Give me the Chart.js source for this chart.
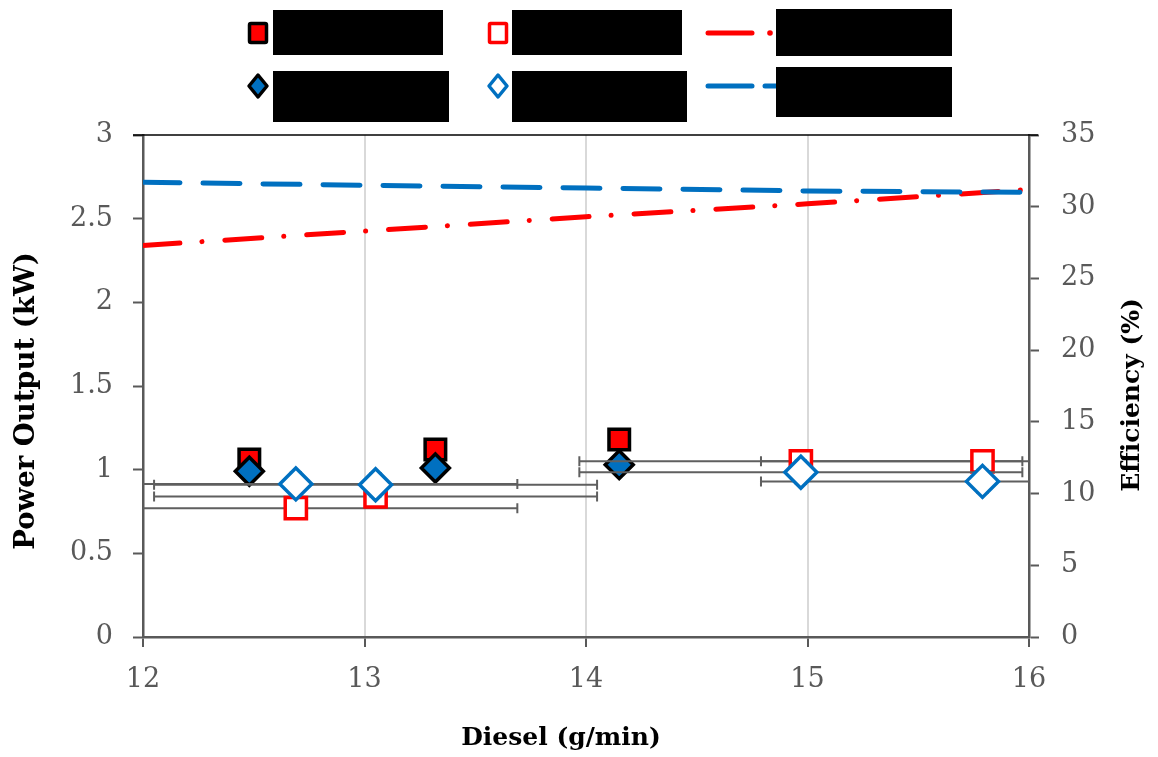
<!DOCTYPE html>
<html>
<head>
<meta charset="utf-8">
<title>Power output and efficiency vs diesel flow</title>
<script src="https://cdn.jsdelivr.net/npm/chart.js@4.4.1/dist/chart.umd.min.js"></script>
<style>
  body { margin: 0; background: #fff; }
  #wrap { position: relative; width: 1158px; height: 757px; }
  #chart { position: absolute; left: 0; top: 0; }
  #keys { position: absolute; left: 0; top: 0; }
  .lbl { position: absolute; background: #000; color: #000; font: 22px 'DejaVu Serif'; line-height: 45px; overflow: hidden; white-space: nowrap; }
</style>
</head>
<body>
<div id="wrap">
  <canvas id="chart" width="1158" height="757"></canvas>
  <svg id="keys" width="1158" height="130">
    <rect x="249.5" y="23.5" width="17" height="19" fill="#ff0000" stroke="#000" stroke-width="3.5" rx="1.5"/>
    <rect x="489.5" y="23.5" width="17" height="19" fill="#fff" stroke="#ff0000" stroke-width="3.5" rx="1"/>
    <line x1="708" y1="33" x2="752" y2="33" stroke="#ff0000" stroke-width="5" stroke-linecap="round"/>
    <circle cx="770" cy="33" r="2.8" fill="#ff0000"/>
    <path d="M258 75 L267 86 L258 97 L249 86 Z" fill="#0070c0" stroke="#000" stroke-width="3.5" stroke-linejoin="round"/>
    <path d="M498 75 L507 86 L498 97 L489 86 Z" fill="#fff" stroke="#0070c0" stroke-width="3.5" stroke-linejoin="round"/>
    <line x1="708" y1="86" x2="752" y2="86" stroke="#0070c0" stroke-width="5" stroke-linecap="round"/>
    <line x1="765" y1="86" x2="778" y2="86" stroke="#0070c0" stroke-width="5" stroke-linecap="round"/>
  </svg>
  <div class="lbl" style="left:273px;top:10px;width:170px;height:45px">Power (measured)</div>
  <div class="lbl" style="left:512px;top:10px;width:170px;height:45px">Power (model)</div>
  <div class="lbl" style="left:776px;top:9px;width:176px;height:47px">Efficiency (measured)</div>
  <div class="lbl" style="left:273px;top:71px;width:176px;height:51px">Power (measured)</div>
  <div class="lbl" style="left:512px;top:71px;width:175px;height:51px">Power (model)</div>
  <div class="lbl" style="left:776px;top:67px;width:176px;height:50px">Efficiency (model)</div>
</div>
<script>
// Values
const dieselMeasured = [12.48, 13.32, 14.15];
const powerMeasuredA = [1.06, 1.12, 1.18];
const powerMeasuredB = [0.99, 1.01, 1.03];

const dieselModel = [12.69, 13.05, 14.97, 15.79];
const powerModelA = [0.77, 0.84, 1.05, 1.05];
const powerModelB = [0.915, 0.91, 0.985, 0.93];
const dieselErr = [1, 1, 1, 1];
const powerErrB = [0.07, 0.07, 0.07, 0.07];

const dieselLine = [12, 13, 14, 15, 16];
const efficiencyA = [27.3, 28.3, 29.3, 30.2, 31.2];
const efficiencyB = [31.7, 31.5, 31.3, 31.1, 31.0];

const xTitle = 'Diesel (g/min)';
const yTitle = 'Power Output (kW)';
const y2Title = 'Efficiency (%)';

const RED = '#ff0000';
const BLUE = '#0070c0';
const AXIS = '#595959';

function pts(xs, ys) {
  return xs.map((x, i) => ({ x, y: ys[i] }));
}

// Error bars drawn right before their own dataset, like the original
const errorBars = {
  id: 'errorBars',
  beforeDatasetDraw(chart, args) {
    const ds = chart.data.datasets[args.index];
    if (!ds.xErr && !ds.yErr) return;
    const { ctx, chartArea: a, scales } = chart;
    const xs = scales.x, ys = scales[ds.yAxisID || 'y'];
    ctx.save();
    ctx.beginPath();
    ctx.rect(a.left, a.top, a.right - a.left, a.bottom - a.top);
    ctx.clip();
    ctx.strokeStyle = '#5f5f5f';
    ctx.lineWidth = 2;
    ds.data.forEach((p, i) => {
      const px = xs.getPixelForValue(p.x);
      const py = ys.getPixelForValue(p.y);
      ctx.beginPath();
      if (ds.xErr) {
        const x0 = xs.getPixelForValue(p.x - ds.xErr[i]);
        const x1 = xs.getPixelForValue(p.x + ds.xErr[i]);
        ctx.moveTo(x0, py); ctx.lineTo(x1, py);
        ctx.moveTo(x0, py - 5); ctx.lineTo(x0, py + 5);
        ctx.moveTo(x1, py - 5); ctx.lineTo(x1, py + 5);
      }
      if (ds.yErr) {
        const y0 = ys.getPixelForValue(p.y - ds.yErr[i]);
        const y1 = ys.getPixelForValue(p.y + ds.yErr[i]);
        ctx.moveTo(px, y0); ctx.lineTo(px, y1);
        ctx.moveTo(px - 6, y0); ctx.lineTo(px + 6, y0);
        ctx.moveTo(px - 6, y1); ctx.lineTo(px + 6, y1);
      }
      ctx.stroke();
    });
    ctx.restore();
  }
};

function drawTitle(ctx, text, size, x, y, rotate) {
  ctx.save();
  ctx.fillStyle = '#000';
  ctx.font = 'bold ' + size + 'px "DejaVu Serif"';
  ctx.textAlign = 'center';
  ctx.textBaseline = 'middle';
  ctx.translate(x, y);
  if (rotate) ctx.rotate(-Math.PI / 2);
  ctx.fillText(text, 0, 0);
  ctx.restore();
}

// Top frame line and the three axis titles
const frameAndTitles = {
  id: 'frameAndTitles',
  beforeDatasetsDraw(chart) {
    const { ctx, chartArea: a } = chart;
    ctx.save();
    ctx.strokeStyle = '#000';
    ctx.lineWidth = 1.5;
    ctx.beginPath();
    ctx.moveTo(a.left - 10, a.top);
    ctx.lineTo(a.right + 9, a.top);
    ctx.stroke();
    ctx.restore();
  },
  afterDraw(chart) {
    const { ctx } = chart;
    drawTitle(ctx, xTitle, 25, 561, 738, false);
    drawTitle(ctx, yTitle, 27.5, 27, 401, true);
    drawTitle(ctx, y2Title, 25, 1132, 395, true);
  }
};

const tickFont = { family: 'DejaVu Serif', size: 27 };

new Chart(document.getElementById('chart'), {
  type: 'scatter',
  data: {
    datasets: [
      { label: 'Power (measured)', data: pts(dieselMeasured, powerMeasuredA), yAxisID: 'y', order: 4,
        pointStyle: 'rect', pointRadius: 14.5, pointBackgroundColor: RED, pointBorderColor: '#000', pointBorderWidth: 3.5 },
      { label: 'Power (measured) B', data: pts(dieselMeasured, powerMeasuredB), yAxisID: 'y', order: 3,
        pointStyle: 'rectRot', pointRadius: 14, pointBackgroundColor: BLUE, pointBorderColor: '#000', pointBorderWidth: 3.5 },
      { label: 'Power (model)', data: pts(dieselModel, powerModelA), yAxisID: 'y', order: 2, xErr: dieselErr,
        pointStyle: 'rect', pointRadius: 15, pointBackgroundColor: '#fff', pointBorderColor: RED, pointBorderWidth: 3.5 },
      { label: 'Power (model) B', data: pts(dieselModel, powerModelB), yAxisID: 'y', order: 1, xErr: dieselErr, yErr: powerErrB,
        pointStyle: 'rectRot', pointRadius: 16, pointBackgroundColor: '#fff', pointBorderColor: BLUE, pointBorderWidth: 3.5 },
      { label: 'Efficiency A', data: pts(dieselLine, efficiencyA), yAxisID: 'y2', order: 6, showLine: true,
        pointRadius: 0, borderColor: RED, borderWidth: 5, borderDash: [37, 22, 0.1, 22.9], borderCapStyle: 'round', tension: 0 },
      { label: 'Efficiency B', data: pts(dieselLine, efficiencyB), yAxisID: 'y2', order: 5, showLine: true,
        pointRadius: 0, borderColor: BLUE, borderWidth: 5, borderDash: [37, 23], borderCapStyle: 'round', tension: 0 }
    ]
  },
  options: {
    responsive: false,
    animation: false,
    devicePixelRatio: 1,
    layout: { padding: { top: 135, left: 0, right: 0, bottom: 0 } },
    plugins: { legend: { display: false }, tooltip: { enabled: false } },
    scales: {
      x: {
        type: 'linear', min: 12, max: 16,
        afterFit: s => { s.height = 120; },
        border: { color: AXIS, width: 2.5 },
        grid: {
          color: c => (c.tick && c.tick.value > 12 && c.tick.value < 16) ? '#d9d9d9' : 'rgba(0,0,0,0)',
          lineWidth: 2, tickColor: AXIS, tickLength: 10, tickWidth: 2
        },
        ticks: { stepSize: 1, color: AXIS, font: tickFont, padding: 17 }
      },
      y: {
        position: 'left', min: 0, max: 3,
        afterFit: s => { s.width = 143; },
        border: { color: AXIS, width: 2.5 },
        grid: { drawOnChartArea: false, tickColor: AXIS, tickLength: 10, tickWidth: 2 },
        ticks: { stepSize: 0.5, color: AXIS, font: tickFont, padding: 20, callback: v => String(v) }
      },
      y2: {
        position: 'right', min: 0, max: 35,
        afterFit: s => { s.width = 129; },
        border: { color: AXIS, width: 2.5 },
        grid: { drawOnChartArea: false, tickColor: AXIS, tickLength: 10, tickWidth: 2 },
        ticks: { stepSize: 5, color: AXIS, font: tickFont, padding: 22, callback: v => String(v) }
      }
    }
  },
  plugins: [errorBars, frameAndTitles]
});
</script>
</body>
</html>
